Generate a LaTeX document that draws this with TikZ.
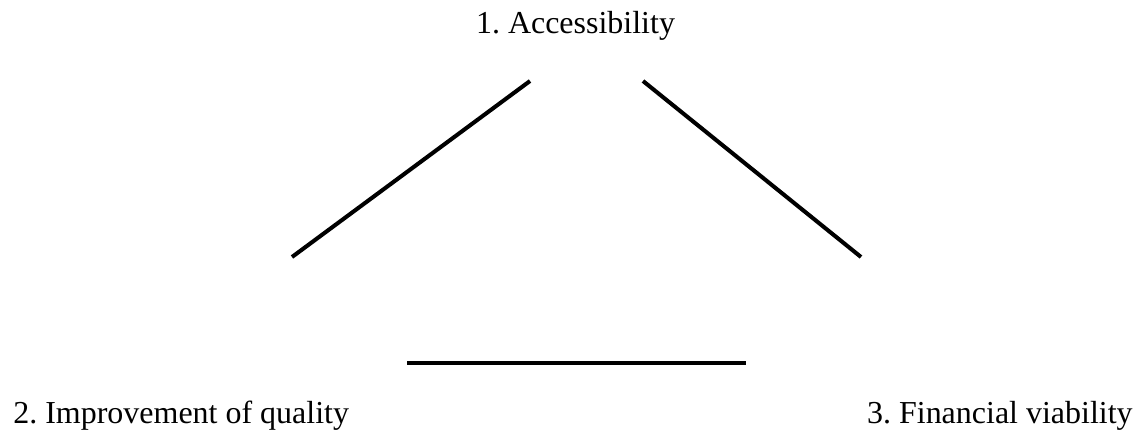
\documentclass[tikz,border=0pt]{standalone}
\usepackage{fontspec}
\setmainfont{Liberation Serif}
\usetikzlibrary{positioning}
\frenchspacing

\begin{document}
\begin{tikzpicture}[
    x=0.02cm, y=-0.02cm,
    goal/.style={inner sep=0pt, font=\fontsize{18.2}{22}\selectfont},
    link/.style={line width=2.3pt, line cap=butt}
]
\useasboundingbox (0,0) rectangle (1134,430);
\node[goal, anchor=base] (acc) at (575.5,33) {1. Accessibility};
\node[goal, anchor=base west] (qual) at (13,423) {2. Improvement of quality};
\node[goal, anchor=base east] (fin) at (1133,423) {3. Financial viability};
\coordinate (l1) at (292,257);
\coordinate (l2) at (530,81);
\coordinate (r1) at (643,81);
\coordinate (r2) at (861,257);
\coordinate (b1) at (407,363);
\coordinate (b2) at (746,363);
\draw[link] (l1) -- (l2);
\draw[link] (r1) -- (r2);
\draw[link] (b1) -- (b2);
\end{tikzpicture}
\end{document}
